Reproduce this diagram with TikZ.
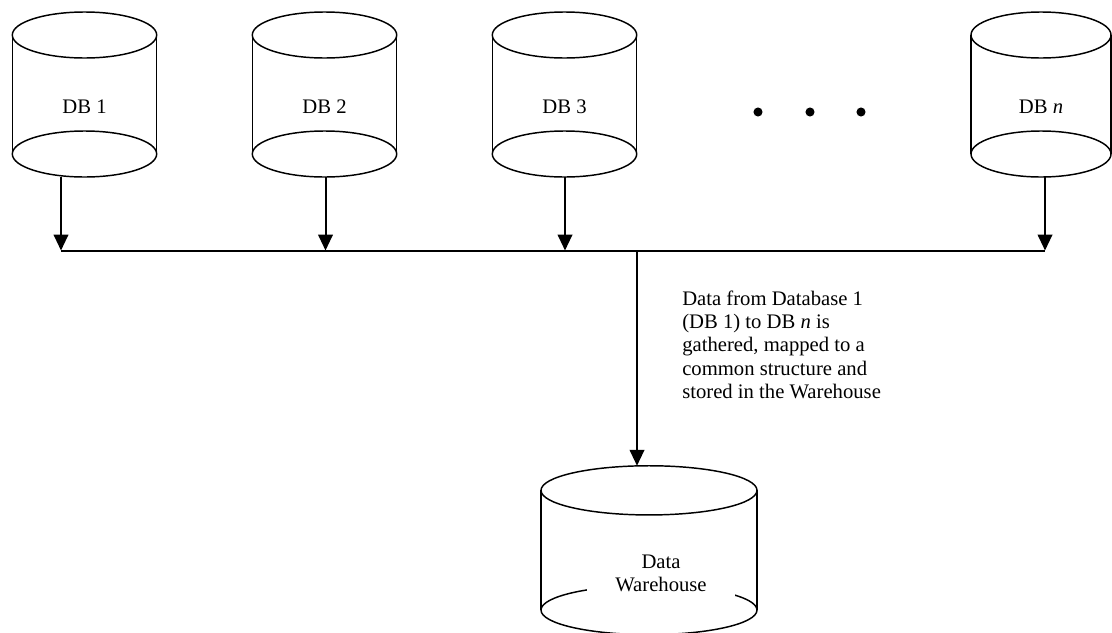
\documentclass[tikz,border=0pt]{standalone}
\usepackage{fontspec}
\setmainfont{Liberation Serif}
\usetikzlibrary{positioning,arrows.meta}

\tikzset{
  pics/drum/.style n args={3}{code={%
    \draw[drumline] (0,-#3/2) ellipse ({#1} and {#2});
    \draw[drumline] (0,#3/2) ellipse ({#1} and {#2});
    \draw[drumline] (-#1,-#3/2) -- (-#1,#3/2) (#1,-#3/2) -- (#1,#3/2);
    \coordinate (-top) at (0,-#3/2-#2);
    \coordinate (-bot) at (0,#3/2+#2);
  }}
}

\begin{document}
\begin{tikzpicture}[x=0.75pt,y=-0.75pt,
font=\fontsize{15.5pt}{17.5pt}\selectfont,
drumline/.style={black,line width=1.1pt},
wire/.style={black,line width=1.5pt},
feed/.style={wire,-{Triangle[length=12pt,width=11pt]}},
dblabel/.style={anchor=base,inner sep=0pt},
note/.style={anchor=north west,align=left,inner sep=0pt},
whlabel/.style={align=center,fill=white,minimum width=111pt,inner xsep=0pt,inner ysep=3pt}]
\useasboundingbox (0,0) rectangle (1112,632);

% source databases
\pic (db1) at (84.5,94.5) {drum={72.2}{23}{119}};
\pic (db2) at (324.5,94.5) {drum={72.2}{23}{119}};
\pic (db3) at (564.5,94.5) {drum={72.2}{23}{119}};
\pic (dbn) at (1041,94.5) {drum={70}{23}{119}};
\node[dblabel] (l1) at (84.5,113) {DB 1};
\node[dblabel] (l2) at (324.5,113) {DB 2};
\node[dblabel] (l3) at (564.5,113) {DB 3};
\node[dblabel] (ln) at (1041,113) {DB \textit{n}};
\foreach \x in {758,810,861}
  \fill (\x,112) circle (3.4pt);

% bus
\coordinate (b1) at (61,250.5);
\coordinate (b2) at (325.5,250.5);
\coordinate (b3) at (565,250.5);
\coordinate (bw) at (637,250.5);
\coordinate (bn) at (1045,250.5);
\draw[feed] (db1-bot -| b1) -- (b1);
\draw[feed] (db2-bot -| b2) -- (b2);
\draw[feed] (db3-bot -| b3) -- (b3);
\draw[feed] (dbn-bot -| bn) -- (bn);
\draw[wire] (b1) -- (bn);

% warehouse
\pic (wh) at (649,550.2) {drum={108}{24.6}{119.7}};
\draw[feed] (bw) -- (bw |- wh-top);
\node[whlabel] (whl) at (661,573.5) {Data\\Warehouse};

\node[note] (txt) at (682,290.5) {Data from Database 1\\(DB 1) to DB \textit{n} is\\gathered, mapped to a\\common structure and\\stored in the Warehouse};
\end{tikzpicture}
\end{document}
